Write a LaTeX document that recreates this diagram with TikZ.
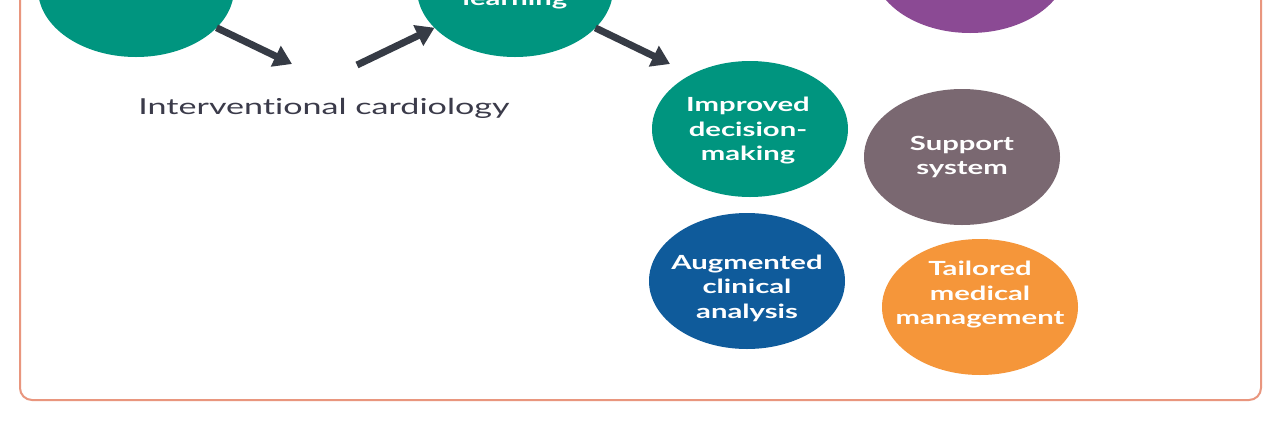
\documentclass[tikz,border=0pt]{standalone}
\usepackage{fontspec}
\setmainfont{Lato}
\newfontfamily\wide{Lato}[FakeStretch=1.55,Ligatures={NoCommon,NoRare}]
\newfontfamily\widelbl{Lato}[FakeStretch=1.5,Ligatures={NoCommon,NoRare}]
\usetikzlibrary{shapes.geometric,arrows.meta}
\definecolor{cTeal}{HTML}{00957F}
\definecolor{cPurple}{HTML}{8B4A94}
\definecolor{cMauve}{HTML}{7A6871}
\definecolor{cBlue}{HTML}{0F5B9B}
\definecolor{cOrange}{HTML}{F5963A}
\definecolor{cArrow}{HTML}{363B45}
\definecolor{cText}{HTML}{3B3B4A}
\definecolor{cFrame}{HTML}{E9967E}
\begin{document}
\begin{tikzpicture}[x=1pt,y=-1pt,
  bubble/.style={ellipse, minimum width=196pt, minimum height=136pt, inner sep=0pt, outer sep=0pt, draw=none},
  lbl/.style={text=white, align=center, inner sep=0pt, font=\widelbl\bfseries\fontsize{19.5}{24.5}\selectfont},
  arr/.style={draw=cArrow, line width=7pt, -{Triangle[length=18pt,width=22pt]}},
  frame/.style={draw=cFrame, line width=2pt, rounded corners=12pt}]
\clip (0,0) rectangle (1286,432);
\fill[white] (0,0) rectangle (1286,432);
\draw[frame] (20,-30) rectangle (1261,400);
% bubbles
\node[bubble, fill=cTeal] (c1) at (136,-11) {};
\node[bubble, fill=cTeal] (c2) at (515,-11) {};
\node[bubble, fill=cPurple] (c3) at (970,-35) {};
\node[bubble, fill=cTeal] (c4) at (750,129) {};
\node[bubble, fill=cMauve] (c5) at (962,157) {};
\node[bubble, fill=cBlue] (c6) at (747,281) {};
\node[bubble, fill=cOrange] (c7) at (980,307) {};
% labels
\node[lbl, anchor=base] (t2) at (515,5) {learning};
\node[lbl] (t4) at (748,131) {Improved\\decision-\\making};
\node[lbl] (t5) at (962,157) {Support\\system};
\node[lbl] (t6) at (747,288) {Augmented\\clinical\\analysis};
\node[lbl] (t7) at (980,295) {Tailored\\medical\\management};
\node[text=cText, anchor=base, inner sep=0pt, font=\wide\fontsize{22}{26}\selectfont] (ic) at (324,114) {Interventional cardiology};
% arrows
\coordinate (e1) at (292,64);
\coordinate (s2) at (357,65);
\coordinate (e3) at (670,64);
\draw[arr] (c1) -- (e1);
\draw[arr] (s2) -- (c2);
\draw[arr] (c2) -- (e3);
\end{tikzpicture}
\end{document}
